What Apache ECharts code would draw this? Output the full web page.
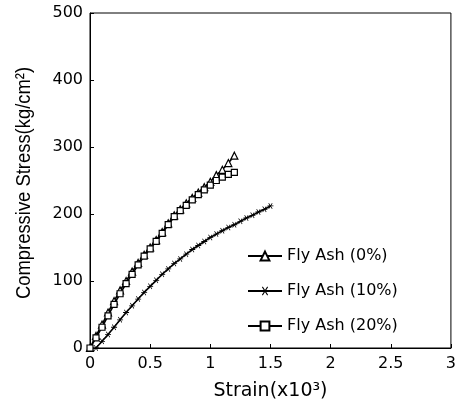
<!DOCTYPE html>
<html lang="en">
<head>
    <meta charset="UTF-8">
    <title>Compressive Stress - Strain</title>
    <script type="text/javascript" src="https://cdn.jsdelivr.net/npm/echarts@6/dist/echarts.min.js"></script>
    <style>
        html, body { margin: 0; padding: 0; background: #fff; }
        #chart { width: 459px; height: 406px; }
    </style>
</head>
<body>
<div id="chart"></div>
<script>
    // strain (x10^-3) and stress (kg/cm2)
    var strainUpper = [0, 0.05, 0.1, 0.15, 0.2, 0.25, 0.3, 0.35, 0.4, 0.45, 0.5, 0.55, 0.6,
        0.65, 0.7, 0.75, 0.8, 0.85, 0.9, 0.95, 1.0, 1.05, 1.1, 1.15, 1.2];
    var stress0 = [0, 18, 35, 53, 70, 86, 100, 114, 127, 139, 150, 161, 173,
        186, 198, 207, 216, 224, 232, 240, 248, 258, 266, 276, 287];
    var stress20 = [0, 15, 31, 48, 65, 81, 96, 110, 124, 137, 148, 159, 171,
        184, 196, 205, 213, 221, 229, 236, 243, 250, 255, 259, 262];
    var strainLower = [0.05, 0.1, 0.15, 0.2, 0.25, 0.3, 0.35, 0.4, 0.45, 0.5, 0.55, 0.6, 0.65, 0.7, 0.75,
        0.8, 0.85, 0.9, 0.95, 1.0, 1.05, 1.1, 1.15, 1.2, 1.25, 1.3, 1.35, 1.4, 1.45, 1.5];
    var stress10 = [0, 10, 20, 31, 42, 53, 63, 73, 83, 92, 101, 110, 118, 126, 133,
        140, 147, 153, 159, 165, 170, 175, 180, 184, 189, 194, 198, 203, 207, 212];
    var seriesNames = ['Fly Ash (0%)', 'Fly Ash (10%)', 'Fly Ash (20%)'];

    // asterisk shaped marker
    var starPath = 'path://M0,4.4L10,4.4L10,5.6L0,5.6Z' +
        'M2.48,0.64L8.48,8.64L7.52,9.36L1.52,1.36Z' +
        'M1.52,8.64L7.52,0.64L8.48,1.36L2.48,9.36Z';

    function pairs(xs, ys) {
        var out = [];
        for (var i = 0; i < xs.length; i++) {
            out.push([xs[i], ys[i]]);
        }
        return out;
    }

    var font = 'DejaVu Sans';
    var myChart = echarts.init(document.getElementById('chart'));
    var option = {
        backgroundColor: '#fff',
        animation: false,
        grid: {
            left: 90, right: 3, top: 13, bottom: 54,
            show: true, borderColor: '#000', borderWidth: 1
        },
        legend: {
            orient: 'vertical',
            left: 242, top: 243,
            itemGap: 19,
            itemWidth: 34, itemHeight: 11,
            textStyle: {fontFamily: font, fontSize: 16, color: '#000'},
            data: seriesNames
        },
        xAxis: {
            type: 'value',
            min: 0, max: 3, interval: 0.5,
            name: 'Strain(x10³)',
            nameLocation: 'middle',
            nameGap: 34,
            nameTextStyle: {fontFamily: font, fontSize: 19, color: '#000'},
            axisLine: {lineStyle: {color: '#000', width: 1}},
            axisTick: {inside: true, length: 4, lineStyle: {color: '#000'}},
            axisLabel: {fontFamily: font, fontSize: 16, color: '#000', margin: 8},
            splitLine: {show: false}
        },
        yAxis: {
            type: 'value',
            min: 0, max: 500, interval: 100,
            axisLine: {show: true, lineStyle: {color: '#000', width: 1}},
            axisTick: {show: true, inside: true, length: 4, lineStyle: {color: '#000'}},
            axisLabel: {fontFamily: font, fontSize: 16, color: '#000', margin: 7},
            splitLine: {show: false}
        },
        graphic: [{
            type: 'text',
            x: 24, y: 183,
            rotation: Math.PI / 2,
            scaleX: 0.92,
            style: {
                text: 'Compressive Stress(kg/cm²)',
                fontFamily: 'Liberation Sans',
                fontSize: 20,
                fill: '#000',
                align: 'center',
                verticalAlign: 'middle'
            }
        }],
        series: [
            {
                name: seriesNames[0],
                type: 'line',
                data: pairs(strainUpper, stress0),
                symbol: 'triangle',
                symbolSize: 7,
                lineStyle: {color: '#000', width: 1.6},
                itemStyle: {color: '#fff', borderColor: '#000', borderWidth: 1.2}
            },
            {
                name: seriesNames[1],
                type: 'line',
                data: pairs(strainLower, stress10),
                symbol: starPath,
                symbolSize: 6,
                lineStyle: {color: '#000', width: 1.6},
                itemStyle: {color: '#000'}
            },
            {
                name: seriesNames[2],
                type: 'line',
                data: pairs(strainUpper, stress20),
                symbol: 'rect',
                symbolSize: 6,
                lineStyle: {color: '#000', width: 1.6},
                itemStyle: {color: '#fff', borderColor: '#000', borderWidth: 1.2}
            }
        ]
    };
    myChart.setOption(option);
</script>
</body>
</html>
